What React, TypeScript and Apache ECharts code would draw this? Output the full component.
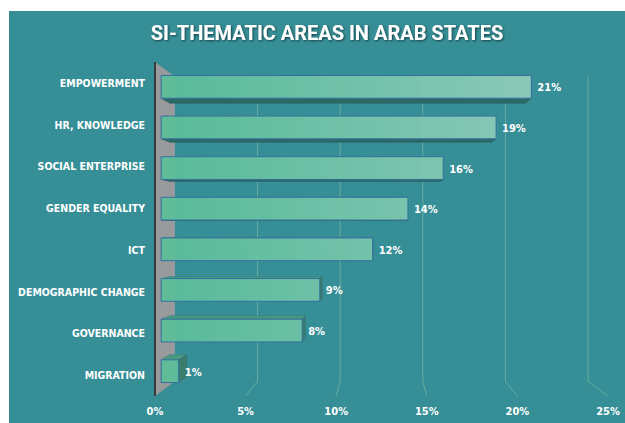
import React, { useEffect, useRef } from "react";
import * as echarts from "echarts";

const categories = [
  "EMPOWERMENT",
  "HR, KNOWLEDGE",
  "SOCIAL ENTERPRISE",
  "GENDER EQUALITY",
  "ICT",
  "DEMOGRAPHIC CHANGE",
  "GOVERNANCE",
  "MIGRATION",
];
const values = [21, 19, 16, 14, 12, 9, 8, 1];
const xTicks = [0, 5, 10, 15, 20, 25];
const titleText = "SI-THEMATIC AREAS IN ARAB STATES";

const K1 = 0.027; // bar front depth
const K2 = 0.065; // bar back depth
const KW = 0.088; // back wall depth

function proj(vp: number[], x: number, y: number, k: number): number[] {
  return [vp[0] + (x - vp[0]) * (1 - k), vp[1] + (y - vp[1]) * (1 - k)];
}

const NARROW = '"DejaVu Sans Condensed", "DejaVu Sans", sans-serif';

export default function App() {
  const ref = useRef<HTMLDivElement>(null);
  useEffect(() => {
    if (!ref.current) return;
    const chart = echarts.init(ref.current, undefined, { renderer: "svg" });

    const wallSeries = {
      type: "custom",
      z: 1,
      silent: true,
      data: [[0, 0]],
      encode: { x: 0, y: 1 },
      renderItem: (params: any, api: any) => {
        const cs = params.coordSys;
        const vp = [cs.x + cs.width / 2, cs.y + cs.height / 2];
        const x0 = api.coord([xTicks[0], 0])[0];
        const top = cs.y;
        const bot = cs.y + cs.height;
        const bt = proj(vp, x0, top, KW);
        const bb = proj(vp, x0, bot, KW);
        return {
          type: "group",
          children: [
            {
              type: "polygon",
              shape: { points: [[x0, top], bt, bb, [x0, bot]] },
              style: { fill: "#999a9b" },
            },
            {
              type: "line",
              shape: { x1: x0, y1: top, x2: x0, y2: bot },
              style: { stroke: "#3a3a3a", lineWidth: 2 },
            },
          ],
        };
      },
    };

    const gridSeries = {
      type: "custom",
      z: 1,
      silent: true,
      data: xTicks.slice(1).map((v) => [v, 0]),
      encode: { x: 0, y: 1 },
      renderItem: (params: any, api: any) => {
        const cs = params.coordSys;
        const vp = [cs.x + cs.width / 2, cs.y + cs.height / 2];
        const x = api.coord([api.value(0), 0])[0];
        const top = cs.y;
        const bot = cs.y + cs.height;
        const bt = proj(vp, x, top, KW);
        const bb = proj(vp, x, bot, KW);
        return {
          type: "polyline",
          shape: { points: [bt, bb, [x, bot]] },
          style: { stroke: "#68ae9f", lineWidth: 1, fill: "none" },
        };
      },
    };

    const barSeries = {
      type: "custom",
      z: 3,
      data: values.map((v, i) => [v, i]),
      encode: { x: 0, y: 1 },
      renderItem: (params: any, api: any) => {
        const cs = params.coordSys;
        const vp = [cs.x + cs.width / 2, cs.y + cs.height / 2];
        const idx = api.value(1);
        const val = api.value(0);
        const s = api.coord([0, idx]);
        const e = api.coord([val, idx]);
        const h = api.size([0, 1])[1] * 0.56;
        const yt = s[1] - h / 2;
        const yb = s[1] + h / 2;
        const x0 = s[0];
        const x1 = e[0];
        const f = (x: number, y: number) => proj(vp, x, y, K1);
        const b = (x: number, y: number) => proj(vp, x, y, K2);
        const children: any[] = [];
        if (yb < vp[1]) {
          children.push({
            type: "polygon",
            shape: { points: [f(x0, yb), f(x1, yb), b(x1, yb), b(x0, yb)] },
            style: { fill: "#2c6964", stroke: "#2a5f6a", lineWidth: 0.5 },
          });
        } else if (yt > vp[1]) {
          children.push({
            type: "polygon",
            shape: { points: [f(x0, yt), f(x1, yt), b(x1, yt), b(x0, yt)] },
            style: { fill: "#47997f", stroke: "#3a7a86", lineWidth: 0.5 },
          });
        }
        if (x1 < vp[0]) {
          children.push({
            type: "polygon",
            shape: { points: [f(x1, yt), b(x1, yt), b(x1, yb), f(x1, yb)] },
            style: { fill: "#3b7c6c", stroke: "#336f80", lineWidth: 0.5 },
          });
        }
        const grad = new echarts.graphic.LinearGradient(
          cs.x,
          0,
          cs.x + cs.width * 0.84,
          0,
          [
            { offset: 0, color: "rgba(90,190,152,0.92)" },
            { offset: 1, color: "rgba(145,205,187,0.92)" },
          ],
          true
        );
        children.push({
          type: "polygon",
          shape: { points: [f(x0, yt), f(x1, yt), f(x1, yb), f(x0, yb)] },
          style: { fill: grad, stroke: "#3470a0", lineWidth: 1 },
        });
        const lp = f(x1, s[1]);
        children.push({
          type: "text",
          x: lp[0] + 6,
          y: lp[1] + 1,
          style: {
            text: val + "%",
            fill: "#ffffff",
            fontSize: 11,
            fontWeight: "bold",
            fontFamily: NARROW,
            align: "left",
            verticalAlign: "middle",
          },
        });
        return { type: "group", children };
      },
    };

    chart.setOption({
      animation: false,
      backgroundColor: "#ffffff",
      graphic: {
        elements: [
          {
            type: "rect",
            z: -10,
            silent: true,
            shape: { x: 9, y: 11, width: 616, height: 412 },
            style: { fill: "#368e96" },
          },
        ],
      },
      title: {
        text: titleText,
        left: 322,
        top: 18,
        textAlign: "center",
        textStyle: {
          color: "#ffffff",
          fontSize: 20,
          fontWeight: "bold",
          fontFamily: "Roboto, sans-serif",
          textShadowColor: "rgba(0,0,0,0.55)",
          textShadowBlur: 2,
          textShadowOffsetX: 1,
          textShadowOffsetY: 1,
        },
      },
      grid: {
        left: 155,
        top: 62,
        width: 453,
        height: 334,
        containLabel: false,
        outerBoundsMode: "none",
      },
      xAxis: {
        type: "value",
        min: 0,
        max: 25,
        interval: 5,
        axisLine: { show: false },
        axisTick: { show: false },
        splitLine: { show: false },
        axisLabel: {
          formatter: "{value}%",
          color: "#ffffff",
          fontSize: 11,
          fontWeight: "bold",
          fontFamily: NARROW,
          margin: 10,
        },
      },
      yAxis: {
        type: "category",
        data: categories,
        inverse: true,
        axisLine: { show: false },
        axisTick: { show: false },
        splitLine: { show: false },
        axisLabel: {
          color: "#ffffff",
          fontSize: 10.5,
          fontWeight: "bold",
          fontFamily: NARROW,
          margin: 10,
        },
      },
      series: [wallSeries, gridSeries, barSeries],
    });

    return () => chart.dispose();
  }, []);

  return (
    <div
      ref={ref}
      style={{ position: "fixed", left: 0, top: 0, width: 625, height: 423 }}
    />
  );
}
